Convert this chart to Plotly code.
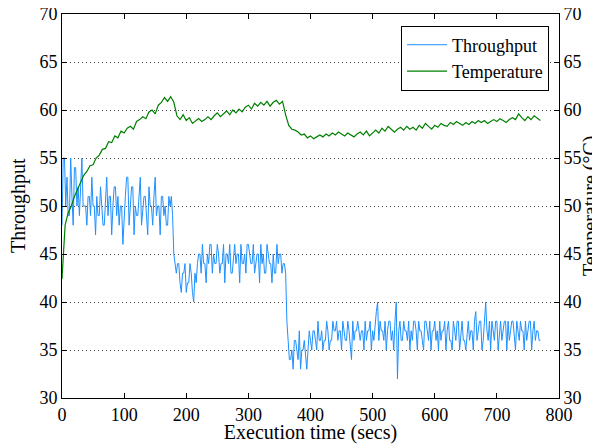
import plotly.graph_objects as go

# throughput sampled every 2 s (0..770)
tp_start = [48, 55, 55, 50, 53, 49, 49, 55, 51, 48, 54, 54, 50, 52, 49, 53, 55, 50]
tp_high = [
    50, 50, 48, 51, 51, 49, 53, 50, 50, 47, 51, 49, 49, 52, 50, 48, 48, 50, 53, 49,
    51, 51, 47, 50, 52, 52, 49, 51, 48, 50, 50, 46, 49, 51, 53, 53, 48, 50, 52, 52,
    47, 50, 49, 49, 51, 53, 48, 50, 51, 51, 49, 47, 52, 50, 50, 48, 51, 53, 49, 50,
    50, 47, 51, 51, 49, 50, 48, 48, 51, 50, 51,
]
tp_drop1 = [49, 45, 44]
tp_mid_low = [43, 44, 44, 42, 41, 43, 43, 44, 41, 42, 42, 44, 43, 41, 40, 43, 42]
tp_mid = [
    44, 45, 45, 43, 46, 44, 44, 42, 45, 44, 46, 46, 43, 45, 44, 44, 46, 45, 43, 44,
    44, 46, 42, 45, 45, 44, 46, 43, 43, 45, 46, 44, 45, 45, 42, 46, 44, 44, 45, 43,
    46, 46, 45, 44, 44, 46, 43, 44, 45, 45, 42, 46, 44, 45, 43, 43, 46, 45, 44, 44,
    42, 45, 43, 43, 46, 44, 45, 45, 43, 44, 44,
]
tp_drop2 = [43, 38]
tp_low_start = [36, 34, 34, 35, 33, 36, 36, 35, 34, 37, 33, 35, 35, 36, 34, 33, 35, 37, 36]
tp_low = [
    35, 37, 37, 36, 35, 38, 36, 36, 37, 35, 36, 36, 38, 37, 35, 36, 36, 38, 37, 37,
    38, 36, 37, 37, 35, 38, 37, 36, 36, 38, 37, 35, 34, 38, 36, 37, 37, 38, 37, 36,
    37, 37, 35, 38, 36, 37, 37, 38, 35, 37, 36, 38, 39, 40, 36, 38, 37, 37, 36, 38,
    35, 37, 38, 38, 36, 37, 35, 38, 40, 32, 37, 38, 36, 36, 38, 37, 37, 36, 38, 35,
    37, 36, 38, 38, 37, 35, 38, 37, 37, 36, 35, 38, 38, 37, 36, 38, 35, 37, 37, 38,
    36, 37, 35, 38, 36, 37, 37, 38, 35, 37, 38, 36, 36, 35, 38, 37, 36, 38, 38, 35,
    37, 38, 36, 36, 35, 37, 38, 36, 37, 37, 35, 38, 39, 36, 37, 38, 38, 35, 36, 38,
    40, 37, 36, 38, 35, 38, 37, 36, 38, 38, 35, 37, 38, 36, 37, 38, 38, 35, 38, 36,
    37, 38, 38, 36, 35, 38, 37, 36, 38, 37, 37, 35, 38, 36, 37, 38, 38, 35, 37, 38,
    36, 37, 37, 36, 36,
]
throughput = (tp_start + tp_high + tp_drop1 + tp_mid_low + tp_mid
              + tp_drop2 + tp_low_start + tp_low)
tp_time = list(range(0, 2 * len(throughput), 2))

# temperature sampled every 5 s (0..770)
temperature = [
    42.4, 48.0, 49.3, 50.0, 51.0, 51.8, 52.6, 53.2, 53.6, 54.2,
    54.3, 55.0, 55.3, 55.9, 56.0, 56.7, 56.6, 57.3, 57.1, 57.8,
    57.6, 58.1, 58.3, 58.0, 58.8, 59.0, 59.3, 59.1, 59.8, 60.0,
    59.6, 60.5, 60.8, 61.3, 60.9, 61.4, 60.8, 59.4, 59.0, 59.5,
    58.9, 59.2, 58.6, 58.9, 59.1, 58.8, 59.0, 59.3, 59.0, 59.4,
    59.7, 59.3, 59.6, 59.9, 59.5, 60.0, 59.7, 60.1, 59.8, 60.3,
    60.5, 60.1, 60.7, 60.4, 60.8, 60.5, 60.9, 60.4, 60.8, 61.0,
    60.6, 60.9, 59.5, 58.4, 58.0, 57.9, 57.7, 57.4, 57.5, 57.1,
    57.3, 57.0, 57.2, 57.4, 57.2, 57.5, 57.3, 57.6, 57.4, 57.7,
    57.5, 57.3, 57.6, 57.4, 57.2, 57.5, 57.7, 57.4, 57.8, 57.3,
    57.6, 57.9, 57.6, 58.1, 57.8, 58.3, 58.0, 57.7, 58.0, 58.2,
    57.9, 58.3, 58.0, 58.2, 57.9, 58.4, 58.1, 58.6, 58.3, 58.0,
    58.4, 58.2, 58.6, 58.4, 58.3, 58.7, 58.5, 58.8, 58.6, 58.4,
    58.7, 58.5, 58.8, 58.6, 58.9, 58.7, 58.9, 58.6, 58.8, 59.0,
    58.8, 59.1, 58.9, 58.7, 59.0, 59.2, 59.0, 59.6, 59.2, 58.9,
    59.3, 59.0, 59.4, 59.1, 58.9,
]
temp_time = list(range(0, 5 * len(temperature), 5))

x_ticks = [0, 100, 200, 300, 400, 500, 600, 700, 800]
y_ticks = [30, 35, 40, 45, 50, 55, 60, 65, 70]

serif = "Liberation Serif"

fig = go.Figure()
fig.add_trace(go.Scatter(
    x=tp_time, y=throughput, mode="lines", name="Throughput",
    line=dict(color="#1E90FF", width=1),
))
fig.add_trace(go.Scatter(
    x=temp_time, y=temperature, mode="lines", name="Temperature",
    line=dict(color="#008000", width=1.2), yaxis="y2",
))

axis_common = dict(
    showline=True, linecolor="black", linewidth=1,
    ticks="inside", ticklen=5, tickcolor="black",
    tickfont=dict(family=serif, size=18, color="black"),
    zeroline=False, automargin=False, ticklabeloverflow="allow",
)

# page body has an 8px margin, so the figure is drawn 8px smaller
fig.update_layout(
    width=592, height=436,
    margin=dict(l=54, r=41, t=6, b=46),
    paper_bgcolor="white", plot_bgcolor="white",
    font=dict(family=serif, color="black"),
    xaxis=dict(
        **axis_common, range=[0, 800], tickvals=x_ticks, mirror="ticks",
        showgrid=False,
        title=dict(text="Execution time (secs)", font=dict(size=20), standoff=0),
    ),
    yaxis=dict(
        **axis_common, range=[30, 70], tickvals=y_ticks,
        showgrid=True, gridcolor="#444", griddash="1px,3px", gridwidth=1,
    ),
    yaxis2=dict(
        **axis_common, range=[30, 70], tickvals=y_ticks,
        overlaying="y", side="right", showgrid=False,
    ),
    legend=dict(
        x=0.98, y=0.97, xanchor="right", yanchor="top",
        bgcolor="white", bordercolor="black", borderwidth=1,
        font=dict(family=serif, size=18), itemwidth=40,
    ),
    showlegend=True,
)

# y axis titles placed by hand so they sit at the figure edges
fig.add_annotation(
    text="Throughput", xref="paper", yref="paper", x=0, y=0.5,
    xanchor="center", yanchor="middle", xshift=-44, textangle=-90,
    showarrow=False, font=dict(family=serif, size=20),
)
fig.add_annotation(
    text="Temperature (°C)", xref="paper", yref="paper", x=1, y=0.5,
    xanchor="center", yanchor="middle", xshift=31, textangle=-90,
    showarrow=False, font=dict(family=serif, size=20),
)

fig.write_html("out.html")
